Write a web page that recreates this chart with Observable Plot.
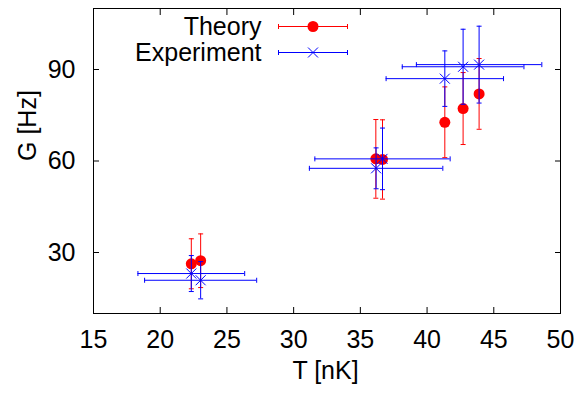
<!DOCTYPE html>
<html><head><meta charset="utf-8">
<script src="https://cdn.jsdelivr.net/npm/d3@7"></script>
<script src="https://cdn.jsdelivr.net/npm/@observablehq/plot@0.6"></script>
<style>
body{margin:0;background:#fff}
#chart{width:583px;height:396px}
</style></head><body><div id="chart"></div>
<script>
// ---- data ----
const theoryT    = [22.33, 23.03, 36.16, 36.66, 41.33, 42.70, 43.90];
const theoryG    = [26.3, 27.3, 60.7, 60.5, 72.7, 77.2, 82.0];
const theoryGErr = [8.2, 8.8, 12.9, 13.0, 11.6, 11.8, 11.6];

const expT    = [22.33, 23.03, 36.18, 36.66, 41.33, 42.70, 43.90];
const expG    = [23.1, 20.9, 57.6, 60.7, 87.0, 90.9, 91.6];
const expTErr = [4.0, 4.2, 5.0, 5.07, 4.4, 4.56, 4.7];
const expGErr = [5.9, 6.1, 6.7, 10.1, 9.1, 12.3, 12.6];

const xTicks = [15, 20, 25, 30, 35, 40, 45, 50];
const yTicks = [30, 60, 90];
const xDomain = [15, 50];
const yDomain = [10, 110];
const seriesNames = ["Theory", "Experiment"];
const seriesColors = ["#ff0000", "#0000ff"];
const xLabel = "T [nK]";
const yLabel = "G [Hz]";

// ---- tables ----
const theory = theoryT.map((t, i) => ({t, g: theoryG[i], ge: theoryGErr[i]}));
const exp = expT.map((t, i) => ({t, g: expG[i], te: expTErr[i], ge: expGErr[i]}));

// ---- custom symbols ----
const hcap = {draw(ctx, size) { const r = Math.sqrt(size / Math.PI); ctx.moveTo(-r, 0); ctx.lineTo(r, 0); }};
const vcap = {draw(ctx, size) { const r = Math.sqrt(size / Math.PI); ctx.moveTo(0, -r); ctx.lineTo(0, r); }};
const cross = {draw(ctx, size) { const r = Math.sqrt(size / Math.PI); ctx.moveTo(-r, -r); ctx.lineTo(r, r); ctx.moveTo(r, -r); ctx.lineTo(-r, r); }};

const FONT = "'Liberation Sans', Arial, Helvetica, sans-serif";
const FS = 25;

function legend() {
  const g = d3.create("svg:g").attr("font-family", FONT).attr("font-size", FS);
  const rows = [
    {name: seriesNames[0], color: seriesColors[0], y: 26.5, marker: "dot"},
    {name: seriesNames[1], color: seriesColors[1], y: 52.5, marker: "cross"}
  ];
  const x0 = 278.5, x1 = 347.5, xm = 313, xt = 261.5;
  for (const r of rows) {
    g.append("text").attr("x", xt).attr("y", r.y).attr("dy", "0.35em")
      .attr("text-anchor", "end").attr("fill", "black").text(r.name);
    g.append("line").attr("x1", x0).attr("x2", x1).attr("y1", r.y).attr("y2", r.y)
      .attr("stroke", r.color).attr("stroke-width", 1);
    for (const xx of [x0, x1]) {
      g.append("line").attr("x1", xx).attr("x2", xx).attr("y1", r.y - 2.5).attr("y2", r.y + 2.5)
        .attr("stroke", r.color).attr("stroke-width", 1);
    }
    if (r.marker === "dot") {
      g.append("circle").attr("cx", xm).attr("cy", r.y).attr("r", 5.5).attr("fill", r.color);
    } else {
      const s = 5;
      g.append("path").attr("d", `M${xm - s},${r.y - s}L${xm + s},${r.y + s}M${xm + s},${r.y - s}L${xm - s},${r.y + s}`)
        .attr("stroke", r.color).attr("fill", "none").attr("stroke-width", 1);
    }
  }
  return g.node();
}

const chart = Plot.plot({
  width: 583,
  height: 396,
  marginLeft: 93,
  marginRight: 23,
  marginTop: 8,
  marginBottom: 83,
  style: {fontFamily: FONT, fontSize: FS + "px", background: "white", color: "black"},
  x: {domain: xDomain},
  y: {domain: yDomain},
  marks: [
    // tick labels
    Plot.axisY({ticks: yTicks, anchor: "left", tickSize: 0, tickPadding: 18, label: null}),
    Plot.axisX({ticks: xTicks, anchor: "bottom", tickSize: 0, tickPadding: 17, label: null}),
    // inward ticks on all four sides
    Plot.axisY({ticks: yTicks, anchor: "left", tickSize: 6, dx: 6, tickFormat: () => "", label: null, strokeWidth: 1}),
    Plot.axisY({ticks: yTicks, anchor: "right", tickSize: 6, dx: -6, tickFormat: () => "", label: null, strokeWidth: 1}),
    Plot.axisX({ticks: xTicks, anchor: "bottom", tickSize: 6, dy: -6, tickFormat: () => "", label: null, strokeWidth: 1}),
    Plot.axisX({ticks: xTicks, anchor: "top", tickSize: 6, dy: 6, tickFormat: () => "", label: null, strokeWidth: 1}),
    // axis titles
    Plot.text([xLabel], {text: d => d, frameAnchor: "bottom", dy: 65, dx: -1.5, fontSize: FS}),
    Plot.text([yLabel], {text: d => d, frameAnchor: "left", dx: -66, rotate: -90, fontSize: FS}),
    // Theory: vertical error bars + caps + circles
    Plot.ruleX(theory, {x: "t", y1: d => d.g - d.ge, y2: d => d.g + d.ge, stroke: seriesColors[0], strokeWidth: 1}),
    Plot.dot(theory, {x: "t", y: d => d.g - d.ge, symbol: hcap, r: 2.5, stroke: seriesColors[0], fill: "none", strokeWidth: 1}),
    Plot.dot(theory, {x: "t", y: d => d.g + d.ge, symbol: hcap, r: 2.5, stroke: seriesColors[0], fill: "none", strokeWidth: 1}),
    Plot.dot(theory, {x: "t", y: "g", r: 5.5, fill: seriesColors[0], stroke: "none"}),
    // Experiment: xy error bars + caps + crosses
    Plot.ruleX(exp, {x: "t", y1: d => d.g - d.ge, y2: d => d.g + d.ge, stroke: seriesColors[1], strokeWidth: 1}),
    Plot.ruleY(exp, {y: "g", x1: d => d.t - d.te, x2: d => d.t + d.te, stroke: seriesColors[1], strokeWidth: 1}),
    Plot.dot(exp, {x: "t", y: d => d.g - d.ge, symbol: hcap, r: 2.5, stroke: seriesColors[1], fill: "none", strokeWidth: 1}),
    Plot.dot(exp, {x: "t", y: d => d.g + d.ge, symbol: hcap, r: 2.5, stroke: seriesColors[1], fill: "none", strokeWidth: 1}),
    Plot.dot(exp, {x: d => d.t - d.te, y: "g", symbol: vcap, r: 2.5, stroke: seriesColors[1], fill: "none", strokeWidth: 1}),
    Plot.dot(exp, {x: d => d.t + d.te, y: "g", symbol: vcap, r: 2.5, stroke: seriesColors[1], fill: "none", strokeWidth: 1}),
    Plot.dot(exp, {x: "t", y: "g", symbol: cross, r: 5, stroke: seriesColors[1], fill: "none", strokeWidth: 1}),
    Plot.frame({stroke: "black", strokeWidth: 1}),
    legend
  ]
});
document.getElementById("chart").append(chart);
</script>
</body></html>
